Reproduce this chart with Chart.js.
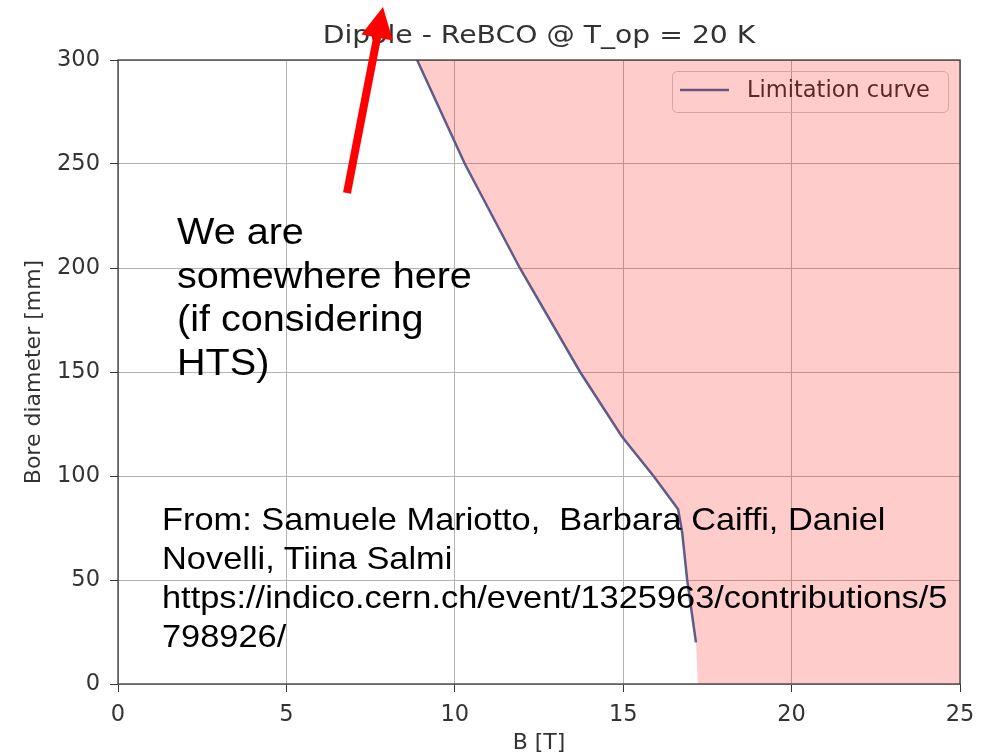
<!DOCTYPE html>
<html>
<head>
<meta charset="utf-8">
<title>Dipole - ReBCO @ T_op = 20 K</title>
<script src="https://cdn.jsdelivr.net/npm/chart.js@4.4.1/dist/chart.umd.min.js"></script>
<style>
  html, body { margin: 0; padding: 0; background: #fff; }
  #wrap { position: relative; width: 994px; height: 756px; overflow: hidden; }
  #chart { position: absolute; left: 0; top: 0; }
  .note {
    position: absolute;
    font-family: "Liberation Sans", Arial, sans-serif;
    color: #000;
    white-space: nowrap;
    transform-origin: 0 0;
  }
  #here { left: 177px; top: 210px; font-size: 37px; line-height: 43.5px; transform: scaleX(1.07); }
  #source { left: 162px; top: 500px; font-size: 30.5px; line-height: 39px; transform: scaleX(1.127); }
</style>
</head>
<body>
<div id="wrap">
  <canvas id="chart" width="994" height="756"></canvas>
  <div class="note" id="here">We are<br>somewhere here<br>(if considering<br>HTS)</div>
  <div class="note" id="source">From: Samuele Mariotto,&nbsp; Barbara Caiffi, Daniel<br>Novelli, Tiina Salmi<br>https://indico.cern.ch/event/1325963/contributions/5<br>798926/</div>
</div>
<script>
// Limitation curve: magnetic field B [T] vs bore diameter [mm]
const fieldB = [8.88, 10.3, 11.93, 13.72, 14.96, 15.9, 16.63, 16.75, 16.9, 17.16];
const boreDiameter = [300, 250, 200, 150, 119, 100, 84, 73, 50, 20];

// Excluded region right of the curve, closed along the bottom and right edges
const regionB = [...fieldB, 17.22, 25, 25];
const regionBore = [...boreDiameter, 0, 0, 300];

const xTickValues = [0, 5, 10, 15, 20, 25];
const yTickValues = [0, 50, 100, 150, 200, 250, 300];

const titleText = 'Dipole - ReBCO @ T_op = 20 K';
const legendText = 'Limitation curve';

const lineColor = '#4b679a';
const textColor = '#333333';
const gridColor = '#b3b3b3';
const tickFont = { family: 'DejaVu Sans', size: 22.5 };
const labelFont = { family: 'DejaVu Sans', size: 22 };

const toPoints = (xs, ys) => xs.map((x, i) => ({ x: x, y: ys[i] }));

// Title, legend, spines and the annotation arrow
const decorations = {
  id: 'decorations',
  beforeDatasetsDraw(chart) {
    const ctx = chart.ctx;
    ctx.save();
    // legend
    ctx.beginPath();
    ctx.roundRect(672.5, 71.5, 276, 41, 5);
    ctx.strokeStyle = 'rgba(200,200,200,0.9)';
    ctx.lineWidth = 1;
    ctx.stroke();
    ctx.beginPath();
    ctx.moveTo(680, 90);
    ctx.lineTo(729, 90);
    ctx.strokeStyle = lineColor;
    ctx.lineWidth = 2.5;
    ctx.stroke();
    ctx.fillStyle = textColor;
    ctx.font = '22.5px "DejaVu Sans"';
    ctx.textBaseline = 'middle';
    ctx.textAlign = 'left';
    ctx.fillText(legendText, 747, 91);
    ctx.restore();
  },
  afterDatasetsDraw(chart) {
    const { ctx, chartArea: a } = chart;
    ctx.save();
    ctx.strokeStyle = '#3a3a3a';
    ctx.lineWidth = 1.3;
    ctx.strokeRect(a.left, a.top, a.right - a.left, a.bottom - a.top);
    ctx.restore();
  },
  afterDraw(chart) {
    const ctx = chart.ctx;
    const a = chart.chartArea;
    ctx.save();
    // title
    ctx.fillStyle = textColor;
    ctx.font = '25px "DejaVu Sans"';
    ctx.textAlign = 'center';
    ctx.textBaseline = 'alphabetic';
    ctx.translate((a.left + a.right) / 2, 43);
    ctx.scale(1.13, 1);
    ctx.fillText(titleText, 0, 0);
    ctx.restore();

    // red arrow
    ctx.save();
    const tail = { x: 347, y: 193 }, tip = { x: 383, y: 7 };
    const dx = tip.x - tail.x, dy = tip.y - tail.y;
    const len = Math.hypot(dx, dy);
    const ux = dx / len, uy = dy / len;
    const nx = -uy, ny = ux;
    const headLen = 31, headHalf = 16;
    const bx = tip.x - headLen * ux, by = tip.y - headLen * uy;
    ctx.strokeStyle = '#ff0000';
    ctx.fillStyle = '#ff0000';
    ctx.lineWidth = 8;
    ctx.beginPath();
    ctx.moveTo(tail.x, tail.y);
    ctx.lineTo(bx + 2 * ux, by + 2 * uy);
    ctx.stroke();
    ctx.beginPath();
    ctx.moveTo(tip.x, tip.y);
    ctx.lineTo(bx + headHalf * nx, by + headHalf * ny);
    ctx.lineTo(bx - headHalf * nx, by - headHalf * ny);
    ctx.closePath();
    ctx.fill();
    ctx.restore();
  }
};

new Chart(document.getElementById('chart'), {
  type: 'line',
  data: {
    datasets: [
      {
        label: legendText,
        data: toPoints(fieldB, boreDiameter),
        borderColor: lineColor,
        borderWidth: 2.5,
        pointRadius: 0,
        fill: false,
        tension: 0,
        order: 1
      },
      {
        label: 'Excluded region',
        data: toPoints(regionB, regionBore),
        borderColor: 'rgba(0,0,0,0)',
        borderWidth: 0,
        backgroundColor: 'rgba(255,0,0,0.2)',
        pointRadius: 0,
        fill: 'shape',
        tension: 0,
        order: 0
      }
    ]
  },
  options: {
    responsive: false,
    animation: false,
    devicePixelRatio: 1,
    layout: { padding: { top: 60, right: 34, left: 0, bottom: 0 } },
    plugins: {
      legend: { display: false },
      title: { display: false },
      tooltip: { enabled: false }
    },
    scales: {
      x: {
        type: 'linear',
        min: 0,
        max: 25,
        afterBuildTicks: s => { s.ticks = xTickValues.map(v => ({ value: v })); },
        afterFit: s => { s.height = 72; },
        border: { display: false },
        grid: { color: gridColor, lineWidth: 1, tickColor: '#333', tickLength: 8 },
        ticks: { font: tickFont, color: textColor, padding: 10, maxRotation: 0 },
        title: { display: true, text: 'B [T]', font: labelFont, color: textColor, padding: { top: 0, bottom: 0 } }
      },
      y: {
        type: 'linear',
        min: 0,
        max: 300,
        afterBuildTicks: s => { s.ticks = yTickValues.map(v => ({ value: v })); },
        afterFit: s => { s.width = 118; },
        border: { display: false },
        grid: { color: gridColor, lineWidth: 1, tickColor: '#333', tickLength: 8 },
        ticks: { font: tickFont, color: textColor, padding: 10 },
        title: { display: true, text: 'Bore diameter [mm]', font: labelFont, color: textColor, padding: { top: 21, bottom: 0 } }
      }
    }
  },
  plugins: [decorations]
});
</script>
</body>
</html>
